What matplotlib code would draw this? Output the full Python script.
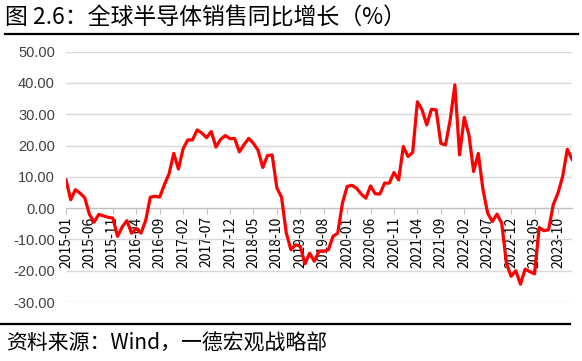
import matplotlib
matplotlib.use('Agg')
import matplotlib.pyplot as plt
from matplotlib.lines import Line2D
import pandas as pd

plt.rcParams['font.family'] = ['Noto Sans CJK SC', 'DejaVu Sans']

# 月度数据 2015-01 ~ 2024-01
months = list(pd.period_range('2015-01', '2024-01', freq='M').strftime('%Y-%m'))
yoy = [9.0, 2.7, 5.9, 4.8, 3.3, -2.0, -4.5, -2.0, -2.5, -2.9,
       -3.2, -9.0, -6.0, -4.0, -8.0, -6.5, -8.0, -4.0, 3.5, 3.8,
       3.5, 7.5, 11.0, 17.5, 12.5, 19.0, 21.8, 21.8, 25.0, 24.0,
       22.5, 24.5, 19.5, 22.0, 23.2, 22.2, 22.3, 18.0, 20.3, 22.3,
       20.7, 18.5, 13.0, 16.8, 17.0, 6.5, 3.5, -7.8, -13.3, -11.7,
       -12.2, -17.8, -14.4, -17.0, -13.8, -13.8, -13.3, -9.0, -8.0, 1.6,
       6.9, 7.3, 6.4, 4.5, 3.2, 7.1, 4.6, 4.5, 8.0, 8.0,
       11.4, 9.0, 19.7, 16.5, 17.8, 34.0, 31.4, 26.6, 31.6, 31.4,
       20.7, 20.2, 28.2, 39.4, 17.0, 29.0, 23.4, 11.7, 17.5, 5.9,
       -1.6, -4.3, -1.9, -4.8, -17.6, -21.8, -20.0, -24.3, -19.5, -20.3,
       -21.0, -6.2, -7.2, -6.9, 1.1, 4.8, 10.1, 18.8, 15.6]

fig = plt.figure(figsize=(5.82, 3.61), dpi=100)
ax = fig.add_axes([66 / 582, 59 / 361, 506 / 582, 250.3 / 361])

x = list(range(len(yoy)))
ax.plot(x, yoy, color='#FF0000', lw=2.3, solid_joinstyle='round', zorder=3)

ax.set_xlim(0, len(yoy) - 1)
ax.set_ylim(-30, 50)
ax.set_yticks(range(-30, 51, 10))
ax.set_yticklabels([f'{v:.2f}' for v in range(-30, 51, 10)],
                   family=['Liberation Sans', 'DejaVu Sans'], fontsize=10.5, color='#404040')
ax.yaxis.grid(True, color='#D9D9D9', lw=1)
ax.set_axisbelow(True)
ax.tick_params(axis='y', length=0, pad=8)

tick_pos = x[::5]
ax.set_xticks(tick_pos)
ax.set_xticklabels([months[i] for i in tick_pos],
                   family=['Liberation Sans', 'DejaVu Sans'], fontsize=10, color='#202020')
ax.tick_params(axis='x', length=4, color='#BFBFBF', pad=2, labelrotation=90)

for s in ['top', 'right', 'left']:
    ax.spines[s].set_visible(False)
ax.spines['bottom'].set_position(('data', 0))
ax.spines['bottom'].set_color('#BFBFBF')

# 标题和来源
fig.text(5 / 582, 1 - 18 / 361, '图 2.6：全球半导体销售同比增长（%）',
         fontsize=16.5, va='center', ha='left')
fig.add_artist(Line2D([5 / 582, 578 / 582], [1 - 34 / 361, 1 - 34 / 361],
                      color='black', lw=1.6, transform=fig.transFigure))
fig.add_artist(Line2D([0, 570 / 582], [1 - 324 / 361, 1 - 324 / 361],
                      color='black', lw=1.6, transform=fig.transFigure))
fig.text(6 / 582, 1 - 344 / 361, '资料来源：Wind，一德宏观战略部',
         fontsize=15, va='center', ha='left')

fig.savefig('out.png', dpi=100)
